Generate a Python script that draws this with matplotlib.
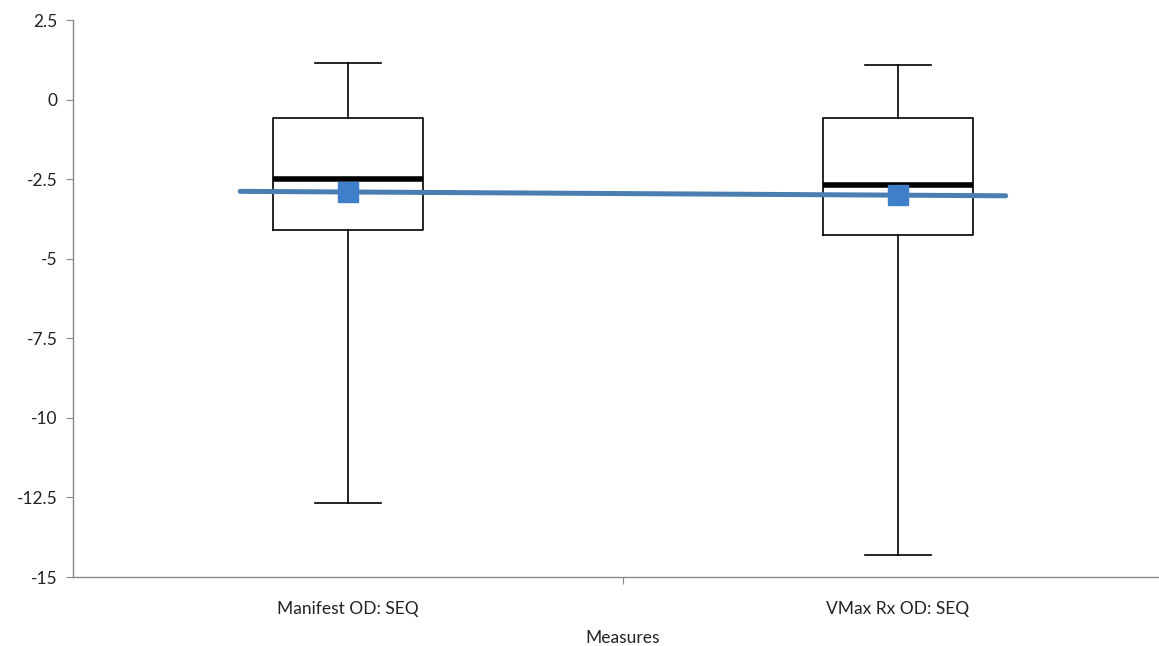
import matplotlib
matplotlib.use("Agg")
import matplotlib.pyplot as plt
from matplotlib.ticker import FuncFormatter

plt.rcParams["font.family"] = ["Lato", "DejaVu Sans"]
plt.rcParams["axes.unicode_minus"] = False

# Box plot summary values
categories = ["Manifest OD: SEQ", "VMax Rx OD: SEQ"]
whisker_low = [-12.68, -14.30]
q1 = [-4.08, -4.24]
median = [-2.50, -2.68]
q3 = [-0.59, -0.59]
whisker_high = [1.15, 1.09]
means = [-2.90, -3.00]

stats = []
for i, name in enumerate(categories):
    stats.append({
        "label": name,
        "whislo": whisker_low[i],
        "q1": q1[i],
        "med": median[i],
        "q3": q3[i],
        "whishi": whisker_high[i],
        "mean": means[i],
    })

fig = plt.figure(figsize=(11.59, 6.46), dpi=100)
ax = fig.add_axes([0.063, 0.1068, 0.949, 0.862])

xs = [0, 1]
ax.bxp(
    stats, positions=xs, widths=0.273, showfliers=False, showmeans=False,
    boxprops=dict(color="black", linewidth=1.2),
    whiskerprops=dict(color="black", linewidth=1.2),
    capprops=dict(color="black", linewidth=1.2),
    capwidths=0.12,
    medianprops=dict(color="black", linewidth=4),
)

# mean line, extended a bit past the two boxes like the original
ext = 0.196
slope = (means[1] - means[0]) / (xs[1] - xs[0])
lx = [xs[0] - ext, xs[1] + ext]
ly = [means[0] - slope * ext, means[1] + slope * ext]
ax.plot(lx, ly, color="#4a7eb0", linewidth=3.6, solid_capstyle="round", zorder=3)
ax.plot(xs, means, linestyle="none", marker="s", markersize=15,
        color="#3f7fc9", zorder=4)

ax.set_xlim(-0.5, 1.5)
ax.set_ylim(-15, 2.5)
ax.set_yticks([2.5, 0, -2.5, -5, -7.5, -10, -12.5, -15])
ax.yaxis.set_major_formatter(FuncFormatter(lambda v, p: "%g" % v))
ax.set_xticks([0.5])
ax.set_xticklabels([""])
for i, name in enumerate(categories):
    ax.text(xs[i], -15.75, name, ha="center", va="top", fontsize=12.5, color="#222222")

for pos in ["top", "right"]:
    ax.spines[pos].set_visible(False)
for pos in ["left", "bottom"]:
    ax.spines[pos].set_color("#888888")
    ax.spines[pos].set_linewidth(1.0)

ax.tick_params(axis="y", length=5, color="#888888", labelsize=12.5, labelcolor="#222222", pad=6)
ax.tick_params(axis="x", length=5, color="#888888")

ax.set_xlabel("Measures", fontsize=12.5, color="#222222", labelpad=30)

fig.savefig("out.png", dpi=100)
